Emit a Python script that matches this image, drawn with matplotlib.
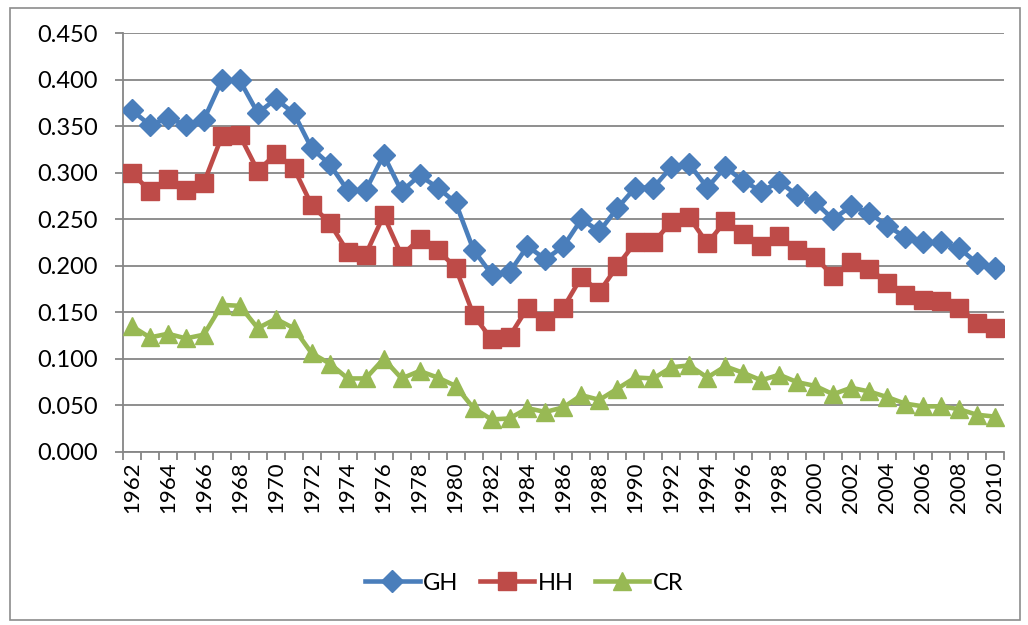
import numpy as np
import matplotlib.pyplot as plt
from matplotlib.patches import Rectangle

years = list(range(1962, 2011))

gh = [0.367, 0.351, 0.359, 0.351, 0.357, 0.399, 0.399, 0.364, 0.379, 0.364,
      0.326, 0.309, 0.281, 0.281, 0.319, 0.280, 0.297, 0.284, 0.268, 0.217,
      0.191, 0.193, 0.221, 0.207, 0.221, 0.250, 0.237, 0.262, 0.284, 0.284,
      0.306, 0.309, 0.284, 0.306, 0.291, 0.280, 0.290, 0.276, 0.268, 0.250,
      0.264, 0.257, 0.243, 0.231, 0.225, 0.225, 0.219, 0.203, 0.198]

hh = [0.300, 0.280, 0.293, 0.281, 0.289, 0.339, 0.340, 0.302, 0.320, 0.305,
      0.265, 0.246, 0.215, 0.212, 0.254, 0.211, 0.229, 0.217, 0.198, 0.147,
      0.121, 0.124, 0.155, 0.141, 0.155, 0.188, 0.172, 0.200, 0.225, 0.225,
      0.247, 0.252, 0.224, 0.248, 0.234, 0.221, 0.232, 0.217, 0.209, 0.189,
      0.204, 0.197, 0.182, 0.169, 0.163, 0.162, 0.155, 0.139, 0.133]

cr = [0.135, 0.123, 0.127, 0.122, 0.126, 0.158, 0.157, 0.133, 0.143, 0.133,
      0.106, 0.095, 0.079, 0.079, 0.100, 0.079, 0.087, 0.080, 0.071, 0.047,
      0.035, 0.036, 0.047, 0.043, 0.048, 0.061, 0.056, 0.068, 0.080, 0.079,
      0.091, 0.093, 0.080, 0.092, 0.085, 0.077, 0.083, 0.075, 0.071, 0.062,
      0.069, 0.065, 0.059, 0.052, 0.049, 0.049, 0.046, 0.040, 0.038]

series = [
    ("GH", gh, "#4A7EBB", "D", 11),
    ("HH", hh, "#BE4B48", "s", 12.5),
    ("CR", cr, "#98B954", "^", 13.5),
]

plt.rcParams["font.family"] = ["Lato", "DejaVu Sans"]

fig = plt.figure(figsize=(10.28, 6.25), dpi=100)
ax = fig.add_axes([0.1196, 0.2768, 0.857, 0.6704])

# chart area border
fig.patches.append(
    Rectangle((10 / 1028, 1 - 620 / 625), 1010 / 1028, 612 / 625,
              transform=fig.transFigure, fill=False,
              edgecolor="#8c8c8c", linewidth=1.2)
)

for name, vals, color, marker, ms in series:
    ax.plot(years, vals, color=color, linewidth=3.3, marker=marker,
            markersize=ms, label=name, zorder=3)

ax.set_xlim(1961.5, 2010.5)
ax.set_ylim(0, 0.45)

ax.set_yticks(np.arange(0, 0.451, 0.05))
ax.set_yticklabels([f"{v:.3f}" for v in np.arange(0, 0.451, 0.05)],
                   fontsize=17)
ax.yaxis.grid(True, color="#868686", linewidth=1.3)
ax.set_axisbelow(True)

ax.set_xticks(years[::2])
ax.set_xticklabels([str(y) for y in years[::2]], rotation=90, fontsize=16)
ax.set_xticks(np.arange(1961.5, 2011, 1), minor=True)
ax.tick_params(axis="x", which="major", length=0, pad=7)
ax.tick_params(axis="x", which="minor", length=6, color="#868686",
               width=1.3)
ax.tick_params(axis="y", length=6, color="#868686", width=1.3, pad=12)

for side in ["top", "right"]:
    ax.spines[side].set_visible(False)
for side in ["left", "bottom"]:
    ax.spines[side].set_color("#868686")
    ax.spines[side].set_linewidth(1.3)

fig.legend(loc="center", bbox_to_anchor=(0.51, 0.067), ncol=3,
           frameon=False, fontsize=17, handlelength=2.3,
           columnspacing=0.9, handletextpad=0.15)

plt.savefig("out.png", dpi=100)
